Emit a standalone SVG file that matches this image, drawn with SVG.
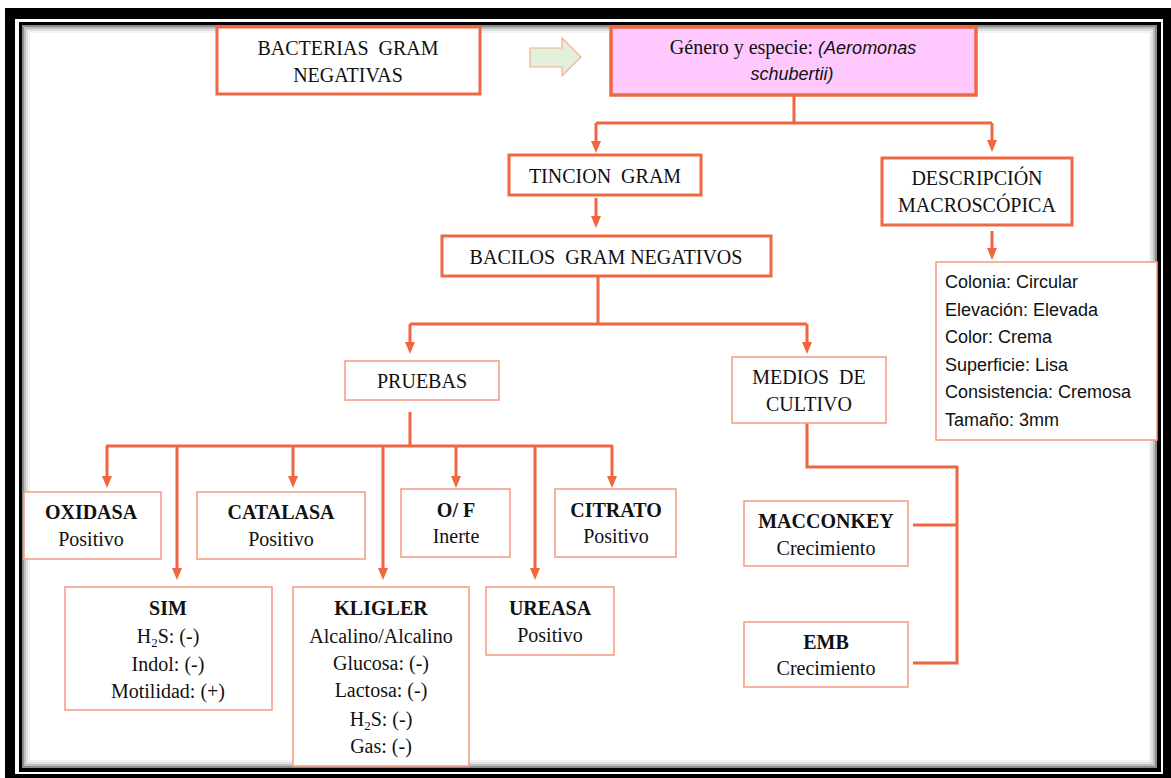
<svg xmlns="http://www.w3.org/2000/svg" width="1171" height="778" viewBox="0 0 1171 778">
<defs>
<style>
.thick{fill:#fff;stroke:#EE6841;stroke-width:3}
.thin{fill:#fff;stroke:#F5A189;stroke-width:1.6}
.conn{fill:none;stroke:#EF6640;stroke-width:3}
.t{font-family:"Liberation Serif",serif;font-size:20px;fill:#111;text-anchor:middle}
.b{font-weight:bold}
.c{font-family:"Liberation Sans",sans-serif;font-size:18px;fill:#111}
.sub{font-size:13px}
</style>
<marker id="ah" markerUnits="userSpaceOnUse" viewBox="0 0 12 10" markerWidth="12" markerHeight="10" refX="4" refY="5" orient="auto">
<path d="M0,0 L12,5 L0,10 z" fill="#EF6640"/>
</marker>
</defs>
<rect x="0" y="0" width="1171" height="778" fill="#fff"/>
<g id="frame">
<rect x="5" y="8" width="1166" height="770" fill="#000"/>
<rect x="15" y="19" width="1148" height="755" fill="#fff"/>
<rect x="19" y="22" width="1142" height="750" fill="#000"/>
<rect x="22" y="25" width="1135" height="743" fill="#fff"/>
<rect x="23" y="26" width="1133" height="741" fill="none" stroke="#000" stroke-opacity="0.45" stroke-width="2"/>
<rect x="25" y="28" width="1129" height="737" fill="none" stroke="#000" stroke-opacity="0.25" stroke-width="2"/>
<rect x="27" y="30" width="1125" height="733" fill="none" stroke="#000" stroke-opacity="0.12" stroke-width="2"/>
<rect x="29" y="32" width="1121" height="729" fill="none" stroke="#000" stroke-opacity="0.05" stroke-width="2"/>
</g>
<g id="connectors">
<path class="conn" d="M794,95 V123 M596,123 H992"/>
<path class="conn" d="M596,123 V145" marker-end="url(#ah)"/>
<path class="conn" d="M992,123 V144" marker-end="url(#ah)"/>
<path class="conn" d="M596,198 V220" marker-end="url(#ah)"/>
<path class="conn" d="M992,231 V252" marker-end="url(#ah)"/>
<path class="conn" d="M598,277 V324 M410,324 H807"/>
<path class="conn" d="M410,324 V346" marker-end="url(#ah)"/>
<path class="conn" d="M807,324 V346" marker-end="url(#ah)"/>
<path class="conn" d="M410,412 V446 M106,446 H613"/>
<path class="conn" d="M107,446 V480" marker-end="url(#ah)"/>
<path class="conn" d="M177,446 V572" marker-end="url(#ah)"/>
<path class="conn" d="M293,446 V480" marker-end="url(#ah)"/>
<path class="conn" d="M383,446 V572" marker-end="url(#ah)"/>
<path class="conn" d="M456,446 V480" marker-end="url(#ah)"/>
<path class="conn" d="M535,446 V572" marker-end="url(#ah)"/>
<path class="conn" d="M612,446 V480" marker-end="url(#ah)"/>
<path class="conn" d="M807,423 V467 H957 V663 H913 M957,525 H913"/>
</g>
<g id="block-arrow">
<path d="M530,48 H562 V38 L581,57 L562,76 V67 H530 Z" fill="#E2EFDA" stroke="#F4B090" stroke-width="1.2"/>
</g>
<g id="bacterias">
<rect class="thick" x="217" y="27" width="263" height="67"/>
<text class="t" x="348" y="55" xml:space="preserve">BACTERIAS  GRAM</text>
<text class="t" x="348" y="82">NEGATIVAS</text>
</g>
<g id="genero">
<rect x="611" y="27" width="365" height="68" fill="#FFC9FF" stroke="#EE6841" stroke-width="3.5"/>
<text class="t" x="793" y="54">Género y especie: <tspan class="c" font-style="italic" font-size="19px">(Aeromonas</tspan></text>
<text class="c" font-style="italic" font-size="19px" x="792" y="80" text-anchor="middle">schubertii)</text>
</g>
<g id="tincion">
<rect class="thick" x="509" y="155" width="192" height="40" stroke-width="2.5"/>
<text class="t" x="605" y="183" xml:space="preserve">TINCION  GRAM</text>
</g>
<g id="bacilos">
<rect class="thick" x="442" y="236" width="329" height="40" stroke-width="2.5"/>
<text class="t" x="606" y="264" xml:space="preserve">BACILOS  GRAM NEGATIVOS</text>
</g>
<g id="descripcion">
<rect class="thick" x="882" y="158" width="190" height="67" stroke-width="2.5"/>
<text class="t" x="977" y="185">DESCRIPCIÓN</text>
<text class="t" x="977" y="212">MACROSCÓPICA</text>
</g>
<g id="colonia">
<rect class="thin" x="936" y="262" width="221" height="178"/>
<text class="c" x="945" y="288">Colonia: Circular</text>
<text class="c" x="945" y="316">Elevación: Elevada</text>
<text class="c" x="945" y="343">Color: Crema</text>
<text class="c" x="945" y="371">Superficie: Lisa</text>
<text class="c" x="945" y="398">Consistencia: Cremosa</text>
<text class="c" x="945" y="426">Tamaño: 3mm</text>
</g>
<g id="pruebas">
<rect class="thin" x="345" y="361" width="154" height="39"/>
<text class="t" x="422" y="388">PRUEBAS</text>
</g>
<g id="medios">
<rect class="thin" x="732" y="357" width="154" height="66"/>
<text class="t" x="809" y="384" xml:space="preserve">MEDIOS  DE</text>
<text class="t" x="809" y="411">CULTIVO</text>
</g>
<g id="oxidasa">
<rect class="thin" x="24" y="492" width="137" height="67"/>
<text class="t b" x="91" y="519">OXIDASA</text>
<text class="t" x="91" y="546">Positivo</text>
</g>
<g id="catalasa">
<rect class="thin" x="197" y="492" width="168" height="67"/>
<text class="t b" x="281" y="519">CATALASA</text>
<text class="t" x="281" y="546">Positivo</text>
</g>
<g id="of">
<rect class="thin" x="401" y="489" width="109" height="68"/>
<text class="t b" x="456" y="517">O/ F</text>
<text class="t" x="456" y="543">Inerte</text>
</g>
<g id="citrato">
<rect class="thin" x="555" y="489" width="121" height="68"/>
<text class="t b" x="616" y="517">CITRATO</text>
<text class="t" x="616" y="543">Positivo</text>
</g>
<g id="sim">
<rect class="thin" x="65" y="587" width="207" height="123"/>
<text class="t b" x="168" y="615">SIM</text>
<text class="t" x="168" y="643">H<tspan class="sub" dy="4">2</tspan><tspan dy="-4">S: (-)</tspan></text>
<text class="t" x="168" y="671">Indol: (-)</text>
<text class="t" x="168" y="698">Motilidad: (+)</text>
</g>
<g id="kligler">
<rect class="thin" x="293" y="587" width="176" height="179"/>
<text class="t b" x="381" y="615">KLIGLER</text>
<text class="t" x="381" y="643">Alcalino/Alcalino</text>
<text class="t" x="381" y="670">Glucosa: (-)</text>
<text class="t" x="381" y="697">Lactosa: (-)</text>
<text class="t" x="381" y="726">H<tspan class="sub" dy="4">2</tspan><tspan dy="-4">S: (-)</tspan></text>
<text class="t" x="381" y="753">Gas: (-)</text>
</g>
<g id="ureasa">
<rect class="thin" x="486" y="587" width="128" height="68"/>
<text class="t b" x="550" y="615">UREASA</text>
<text class="t" x="550" y="642">Positivo</text>
</g>
<g id="macconkey">
<rect class="thin" x="744" y="501" width="164" height="65"/>
<text class="t b" x="826" y="528">MACCONKEY</text>
<text class="t" x="826" y="555">Crecimiento</text>
</g>
<g id="emb">
<rect class="thin" x="744" y="622" width="164" height="65"/>
<text class="t b" x="826" y="649">EMB</text>
<text class="t" x="826" y="675">Crecimiento</text>
</g>
</svg>
